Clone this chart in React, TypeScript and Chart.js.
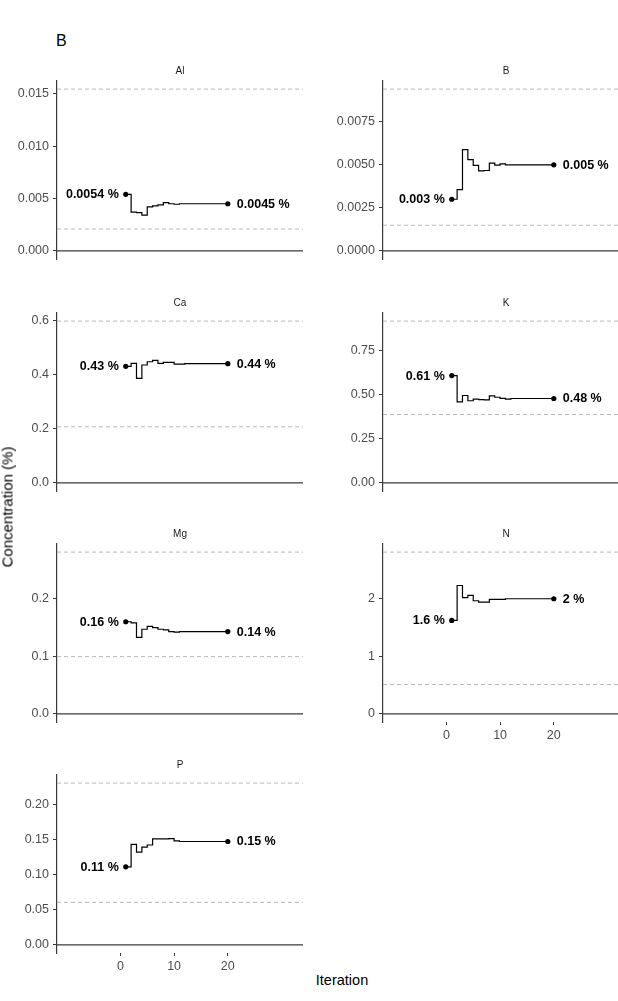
import React, { useEffect, useRef } from "react";
import { Chart, registerables } from "chart.js";

Chart.register(...registerables);

const FONT = "'Liberation Sans', Arial, Helvetica, sans-serif";

// Iterations of the optimisation run
const iterations = [1, 2, 3, 4, 5, 6, 7, 8, 9, 10, 11, 12, 13, 14, 15, 16, 17, 18, 19, 20];
const iterationTicks = [0, 10, 20];
const iterationRange = [-11.8, 34];

// Nutrient concentration (%) at each iteration
const alValues = [0.0054, 0.0037, 0.00365, 0.00342, 0.0042, 0.0043, 0.0044, 0.0046, 0.0045, 0.00445,
  0.0045, 0.0045, 0.0045, 0.0045, 0.0045, 0.0045, 0.0045, 0.0045, 0.0045, 0.0045];
const bValues = [0.003, 0.00356, 0.00588, 0.0053, 0.00497, 0.00465, 0.00467, 0.0051, 0.00498, 0.00505,
  0.005, 0.005, 0.005, 0.005, 0.005, 0.005, 0.005, 0.005, 0.005, 0.005];
const caValues = [0.43, 0.441, 0.386, 0.435, 0.447, 0.452, 0.441, 0.445, 0.445, 0.438,
  0.438, 0.44, 0.44, 0.44, 0.44, 0.44, 0.44, 0.44, 0.44, 0.44];
const kValues = [0.61, 0.461, 0.497, 0.467, 0.476, 0.474, 0.472, 0.495, 0.487, 0.481,
  0.476, 0.48, 0.48, 0.48, 0.48, 0.48, 0.48, 0.48, 0.48, 0.48];
const mgValues = [0.16, 0.158, 0.133, 0.147, 0.152, 0.15, 0.147, 0.146, 0.143, 0.142,
  0.143, 0.143, 0.143, 0.143, 0.143, 0.143, 0.143, 0.143, 0.143, 0.143];
const nValues = [1.624, 2.23, 2.02, 2.06, 1.965, 1.94, 1.94, 1.99, 1.99, 1.99,
  2, 2, 2, 2, 2, 2, 2, 2, 2, 2];
const pValues = [0.111, 0.143, 0.132, 0.139, 0.142, 0.1506, 0.1506, 0.1506, 0.151, 0.148,
  0.147, 0.147, 0.147, 0.147, 0.147, 0.147, 0.147, 0.147, 0.147, 0.147];

// Sufficiency range bounds (dashed lines), in panel order
const panelNames = ["Al", "B", "Ca", "K", "Mg", "N", "P"];
const upperLimits = [0.01544, 0.0094, 0.597, 0.92, 0.281, 2.81, 0.23];
const lowerLimits = [0.00209, 0.00149, 0.207, 0.389, 0.0995, 0.51, 0.0605];

// Y-axis ticks per panel
const alTicks = [0, 0.005, 0.01, 0.015];
const alTickLabels = ["0.000", "0.005", "0.010", "0.015"];
const bTicks = [0, 0.0025, 0.005, 0.0075];
const bTickLabels = ["0.0000", "0.0025", "0.0050", "0.0075"];
const caTicks = [0, 0.2, 0.4, 0.6];
const caTickLabels = ["0.0", "0.2", "0.4", "0.6"];
const kTicks = [0, 0.25, 0.5, 0.75];
const kTickLabels = ["0.00", "0.25", "0.50", "0.75"];
const mgTicks = [0, 0.1, 0.2];
const mgTickLabels = ["0.0", "0.1", "0.2"];
const nTicks = [0, 1, 2];
const nTickLabels = ["0", "1", "2"];
const pTicks = [0, 0.05, 0.1, 0.15, 0.2];
const pTickLabels = ["0.00", "0.05", "0.10", "0.15", "0.20"];

const seriesByPanel = [alValues, bValues, caValues, kValues, mgValues, nValues, pValues];
const ticksByPanel = [alTicks, bTicks, caTicks, kTicks, mgTicks, nTicks, pTicks];
const tickLabelsByPanel = [alTickLabels, bTickLabels, caTickLabels, kTickLabels, mgTickLabels, nTickLabels, pTickLabels];
const panelsWithIterationAxis = ["N", "P"];

// Facet grid placement
const COL_LEFT = [0, 326];
const ROW_TOP = [58.5, 290.5, 521.5, 753];
const CANVAS_W = 303;
const CANVAS_H = 222;
const AXIS_W = 57;
const TITLE_H = 22;
const XAXIS_H = 22;

const formatPct = (v: number) => `${Number(v.toPrecision(2))} %`;

type PanelProps = {
  name: string;
  values: number[];
  upper: number;
  lower: number;
  yTicks: number[];
  yTickLabels: string[];
  showIteration: boolean;
  left: number;
  top: number;
};

function Panel({ name, values, upper, lower, yTicks, yTickLabels, showIteration, left, top }: PanelProps) {
  const ref = useRef<HTMLCanvasElement | null>(null);

  useEffect(() => {
    if (!ref.current) return;
    const [xMin, xMax] = iterationRange;
    const steps = iterations.map((x, i) => ({ x, y: values[i] }));
    const ends = [steps[0], steps[steps.length - 1]];

    const panelDecor = {
      id: "panelDecor",
      afterDatasetsDraw(chart: any) {
        const { ctx, chartArea } = chart;
        ctx.save();
        // facet strip title
        ctx.fillStyle = "#1a1a1a";
        ctx.font = `10px ${FONT}`;
        ctx.textAlign = "center";
        ctx.textBaseline = "middle";
        ctx.fillText(name, (chartArea.left + chartArea.right) / 2, chartArea.top - 10);
        // start / end value labels
        const meta = chart.getDatasetMeta(4);
        const p0 = meta.data[0];
        const p1 = meta.data[1];
        ctx.fillStyle = "#000000";
        ctx.font = `bold 12.5px ${FONT}`;
        ctx.textAlign = "right";
        ctx.fillText(formatPct(ends[0].y), p0.x - 7, p0.y + 0.5);
        ctx.textAlign = "left";
        ctx.fillText(formatPct(ends[1].y), p1.x + 9, p1.y + 0.5);
        ctx.restore();
      },
    };

    const chart = new Chart(ref.current, {
      type: "line",
      data: {
        datasets: [
          {
            data: [{ x: xMin, y: 0 }, { x: xMax, y: 0 }],
            borderColor: "#3a3a3a",
            borderWidth: 1.2,
            pointRadius: 0,
            pointHoverRadius: 0,
          },
          {
            data: [{ x: xMin, y: upper }, { x: xMax, y: upper }],
            borderColor: "#b0b0b0",
            borderWidth: 0.9,
            borderDash: [4, 3],
            pointRadius: 0,
            pointHoverRadius: 0,
          },
          {
            data: [{ x: xMin, y: lower }, { x: xMax, y: lower }],
            borderColor: "#b0b0b0",
            borderWidth: 0.9,
            borderDash: [4, 3],
            pointRadius: 0,
            pointHoverRadius: 0,
          },
          {
            data: steps,
            stepped: "before",
            borderColor: "#000000",
            borderWidth: 1.2,
            pointRadius: 0,
            pointHoverRadius: 0,
          },
          {
            data: ends,
            showLine: false,
            pointRadius: 2.6,
            pointHoverRadius: 2.6,
            pointBackgroundColor: "#000000",
            pointBorderWidth: 0,
          },
        ],
      } as any,
      options: {
        animation: false,
        responsive: false,
        maintainAspectRatio: false,
        events: [],
        layout: { autoPadding: false, padding: { top: TITLE_H, left: 0, right: 0, bottom: 0 } },
        plugins: { legend: { display: false }, tooltip: { enabled: false } },
        scales: {
          x: {
            type: "linear",
            min: xMin,
            max: xMax,
            afterBuildTicks: (axis: any) => {
              axis.ticks = iterationTicks.map((v) => ({ value: v }));
            },
            afterFit: (axis: any) => {
              axis.height = XAXIS_H;
              axis.paddingLeft = 0;
              axis.paddingRight = 0;
            },
            border: { display: false },
            grid: {
              display: showIteration,
              drawOnChartArea: false,
              drawTicks: true,
              tickLength: 3,
              color: "#3a3a3a",
              lineWidth: 1,
            },
            ticks: {
              display: showIteration,
              autoSkip: false,
              maxRotation: 0,
              padding: 3,
              color: "#4d4d4d",
              font: { family: FONT, size: 12.5 },
              callback: (v: any) => String(v),
            },
          },
          y: {
            type: "linear",
            min: -0.05 * upper,
            max: 1.05 * upper,
            afterBuildTicks: (axis: any) => {
              axis.ticks = yTicks.map((v) => ({ value: v }));
            },
            afterFit: (axis: any) => {
              axis.width = AXIS_W;
              axis.paddingTop = 0;
              axis.paddingBottom = 0;
            },
            border: { display: true, color: "#3a3a3a", width: 1.2 },
            grid: {
              display: true,
              drawOnChartArea: false,
              drawTicks: true,
              tickLength: 4,
              color: "#3a3a3a",
              lineWidth: 1,
            },
            ticks: {
              autoSkip: false,
              padding: 4,
              color: "#4d4d4d",
              font: { family: FONT, size: 12.5 },
              callback: (v: any) => {
                const i = yTicks.findIndex((t) => Math.abs(t - v) < 1e-12);
                return i >= 0 ? yTickLabels[i] : "";
              },
            },
          },
        },
      } as any,
      plugins: [panelDecor],
    });
    return () => chart.destroy();
  }, [name, values, upper, lower, yTicks, yTickLabels, showIteration]);

  return (
    <canvas
      ref={ref}
      width={CANVAS_W}
      height={CANVAS_H}
      style={{ position: "absolute", left, top, width: CANVAS_W, height: CANVAS_H }}
    />
  );
}

export default function App() {
  return (
    <div
      style={{
        position: "absolute",
        left: 0,
        top: 0,
        width: 618,
        height: 1001,
        overflow: "hidden",
        background: "#ffffff",
        fontFamily: FONT,
      }}
    >
      <div style={{ position: "absolute", left: 56, top: 33, fontSize: 16, lineHeight: "16px", color: "#000" }}>B</div>
      {panelNames.map((name, i) => (
        <Panel
          key={name}
          name={name}
          values={seriesByPanel[i]}
          upper={upperLimits[i]}
          lower={lowerLimits[i]}
          yTicks={ticksByPanel[i]}
          yTickLabels={tickLabelsByPanel[i]}
          showIteration={panelsWithIterationAxis.includes(name)}
          left={COL_LEFT[i % 2]}
          top={ROW_TOP[Math.floor(i / 2)]}
        />
      ))}
      <div
        style={{
          position: "absolute",
          left: 7,
          top: 507,
          transform: "translate(-50%, -50%) rotate(-90deg)",
          whiteSpace: "nowrap",
          fontSize: 15,
          color: "#000",
        }}
      >
        Concentration (%)
      </div>
      <div
        style={{
          position: "absolute",
          left: 342,
          top: 980,
          transform: "translate(-50%, -50%)",
          whiteSpace: "nowrap",
          fontSize: 14.5,
          color: "#000",
        }}
      >
        Iteration
      </div>
    </div>
  );
}
